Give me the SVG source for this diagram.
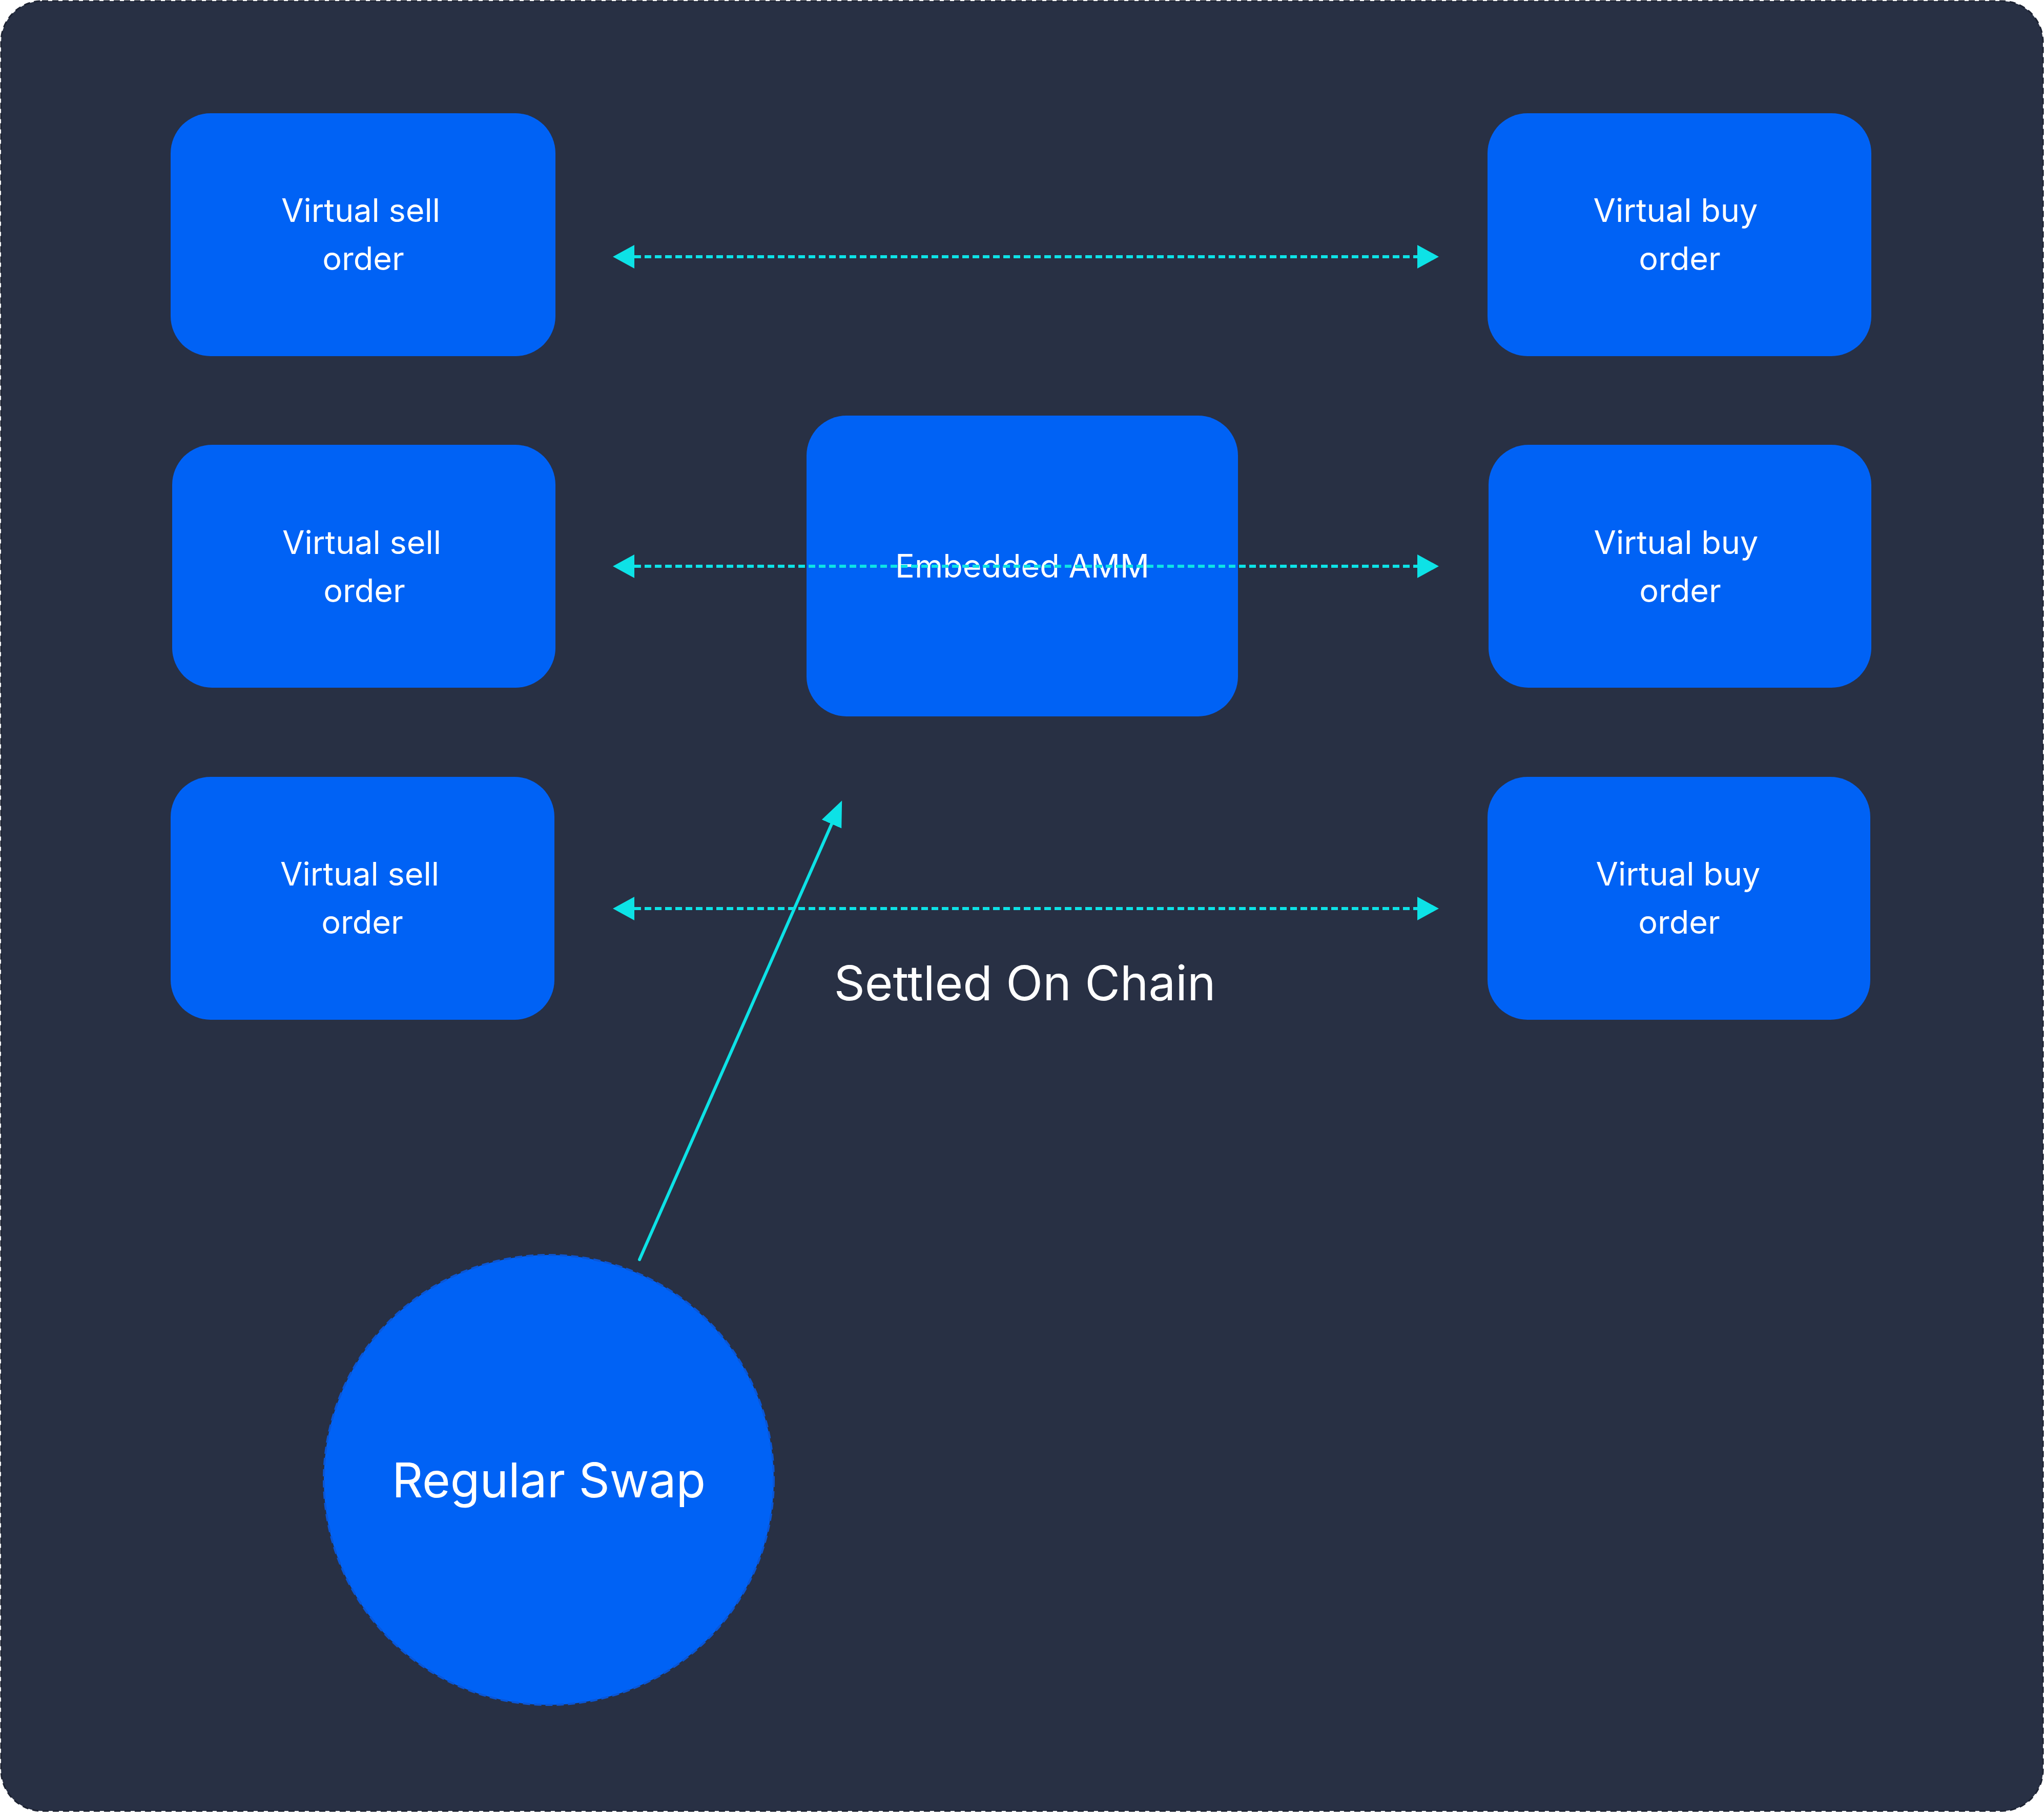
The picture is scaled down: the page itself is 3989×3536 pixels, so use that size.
<svg xmlns="http://www.w3.org/2000/svg" width="3989" height="3536" viewBox="0 0 3989 3536">
  <style>
    .node { fill: #0062F5; }
    .lbl { font-family: Inter, "Noto Sans", "Liberation Sans", sans-serif; fill: #FFFFFF; font-size: 63px; text-anchor: middle; }
    .big { font-size: 94px; }
    .dash { stroke: #0DE2E6; stroke-width: 6; stroke-dasharray: 13 7; fill: none; }
    .solid { stroke: #0DE2E6; stroke-width: 6; stroke-linecap: round; fill: none; }
  </style>
  <defs>
    <marker id="ah" markerUnits="userSpaceOnUse" markerWidth="42" markerHeight="48" refX="0" refY="23" orient="auto-start-reverse" viewBox="0 0 42 46">
      <path d="M0,0 L42,23 L0,46 z" fill="#0DE2E6"/>
    </marker>
    <marker id="ah2" markerUnits="userSpaceOnUse" markerWidth="50" markerHeight="44" refX="0" refY="21" orient="auto" viewBox="0 0 50 42">
      <path d="M0,0 L50,21 L0,42 z" fill="#0DE2E6"/>
    </marker>
  </defs>
  <rect x="0" y="0" width="3989" height="3536" fill="#FFFFFF"/>
  <rect id="frame" x="2" y="2" width="3985" height="3532" rx="80" ry="80" fill="#283044" stroke="#1C2232" stroke-width="3" stroke-dasharray="12 8"/>

  <g id="sell1">
    <rect class="node" x="333" y="221" width="751" height="474" rx="78"/>
    <text class="lbl" x="704" y="433">Virtual sell</text>
    <text class="lbl" x="709" y="527">order</text>
  </g>
  <g id="sell2">
    <rect class="node" x="336" y="868" width="748" height="474" rx="78"/>
    <text class="lbl" x="706" y="1081">Virtual sell</text>
    <text class="lbl" x="711" y="1175">order</text>
  </g>
  <g id="sell3">
    <rect class="node" x="333" y="1516" width="749" height="474" rx="78"/>
    <text class="lbl" x="702" y="1728">Virtual sell</text>
    <text class="lbl" x="707" y="1822">order</text>
  </g>
  <g id="buy1">
    <rect class="node" x="2903" y="221" width="749" height="474" rx="78"/>
    <text class="lbl" x="3270" y="433">Virtual buy</text>
    <text class="lbl" x="3278" y="527">order</text>
  </g>
  <g id="buy2">
    <rect class="node" x="2905" y="868" width="747" height="474" rx="78"/>
    <text class="lbl" x="3271" y="1081">Virtual buy</text>
    <text class="lbl" x="3279" y="1175">order</text>
  </g>
  <g id="buy3">
    <rect class="node" x="2903" y="1516" width="747" height="474" rx="78"/>
    <text class="lbl" x="3275" y="1728">Virtual buy</text>
    <text class="lbl" x="3277" y="1822">order</text>
  </g>
  <g id="amm">
    <rect class="node" x="1574" y="811" width="842" height="587" rx="78"/>
    <text class="lbl" x="1995" y="1127">Embedded AMM</text>
  </g>
  <g id="swap">
    <circle cx="1071" cy="2888" r="439" fill="#0062F5" stroke="#0A56D6" stroke-width="4" stroke-dasharray="14 8"/>
    <text class="lbl big" x="1071" y="2922">Regular Swap</text>
  </g>
  <g id="settled-label">
    <text class="lbl big" x="2000" y="1952">Settled On Chain</text>
  </g>

  <g id="connectors">
    <line class="dash" x1="1238" y1="501" x2="2766" y2="501" marker-start="url(#ah)" marker-end="url(#ah)"/>
    <line class="dash" x1="1238" y1="1105" x2="2766" y2="1105" marker-start="url(#ah)" marker-end="url(#ah)"/>
    <line class="dash" x1="1238" y1="1773" x2="2766" y2="1773" marker-start="url(#ah)" marker-end="url(#ah)"/>
    <line class="solid" x1="1248" y1="2458" x2="1623" y2="1608" marker-end="url(#ah2)"/>
  </g>
</svg>
